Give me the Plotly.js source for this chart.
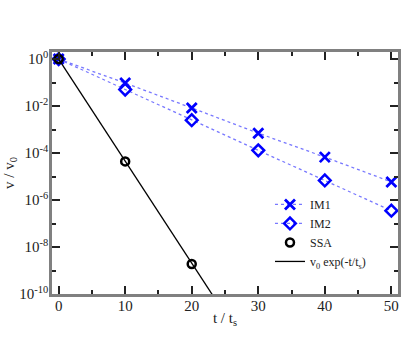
<!DOCTYPE html>
<html>
<head>
<meta charset="utf-8">
<script src="https://cdn.plot.ly/plotly-3.0.1.min.js"></script>
<style>
  html, body { margin: 0; padding: 0; background: #fff; }
  #plot { width: 407px; height: 346px; }
</style>
</head>
<body>
<div id="plot"></div>
<script>
// Data
var tPoints = [0, 10, 20, 30, 40, 50];
var im1 = [1, 0.095, 8.3e-3, 7.0e-4, 6.7e-5, 5.9e-6];
var im2 = [1, 0.05, 2.5e-3, 1.3e-4, 6.8e-6, 3.5e-7];
var ssaT = [0, 10, 20];
var ssa = [1, 4.4e-5, 1.9e-9];
var fitT = [0, 25];
var fitV = [1, 1.39e-11];

var majorY = [1, 1e-2, 1e-4, 1e-6, 1e-8, 1e-10];
var majorYText = ['10<sup>0</sup>', '10<sup>-2</sup>', '10<sup>-4</sup>', '10<sup>-6</sup>', '10<sup>-8</sup>', '10<sup>-10</sup>'];
var minorY = [1e-1, 1e-3, 1e-5, 1e-7, 1e-9];

var blue = 'rgb(0,0,255)';
var serif = 'Liberation Serif';

var data = [
  {
    x: tPoints, y: im1, name: 'IM1', type: 'scatter', mode: 'lines+markers',
    line: {color: 'rgb(120,120,255)', width: 1.3, dash: 'dot'},
    marker: {symbol: 'x-thin-open', size: 10, color: blue, line: {color: blue, width: 2.8}}
  },
  {
    x: tPoints, y: im2, name: 'IM2', type: 'scatter', mode: 'lines+markers',
    line: {color: 'rgb(120,120,255)', width: 1.3, dash: 'dot'},
    marker: {symbol: 'diamond-open', size: 9, color: blue, line: {color: blue, width: 2.5}}
  },
  {
    x: ssaT, y: ssa, name: 'SSA', type: 'scatter', mode: 'markers',
    marker: {symbol: 'circle-open', size: 8, color: 'black', line: {color: 'black', width: 2.5}}
  },
  {
    x: fitT, y: fitV, name: 'v<sub>0</sub> exp(-t/t<sub>s</sub>)', type: 'scatter', mode: 'lines',
    line: {color: 'black', width: 1.3}
  }
];

var layout = {
  width: 407,
  height: 346,
  margin: {l: 52, r: 9, t: 52, b: 52},
  paper_bgcolor: 'white',
  plot_bgcolor: 'white',
  font: {family: serif, size: 14, color: '#222'},
  showlegend: true,
  legend: {
    x: 0.63, y: 0.43, xanchor: 'left', yanchor: 'top',
    bgcolor: 'rgba(0,0,0,0)',
    font: {family: serif, size: 12, color: '#222'},
    tracegroupgap: 0,
    itemwidth: 30
  },
  xaxis: {
    range: [-1, 51],
    tickvals: [0, 10, 20, 30, 40, 50],
    ticks: 'inside', ticklen: 8, tickwidth: 1.5, tickcolor: '#222',
    minor: {dtick: 5, tick0: 0, ticks: 'inside', ticklen: 4, tickcolor: '#222', tickwidth: 1.5},
    showline: true, linecolor: '#808080', linewidth: 2.5, mirror: 'allticks',
    showgrid: false, zeroline: false,
    ticklabelstandoff: -4,
    tickfont: {family: serif, size: 15},
    title: {text: 't / t<sub>s</sub>', font: {family: serif, size: 15}, standoff: 0}
  },
  yaxis: {
    type: 'log',
    range: [-10, 0.3],
    tickmode: 'array',
    tickvals: majorY, ticktext: majorYText,
    ticks: 'inside', ticklen: 8, tickwidth: 1.5, tickcolor: '#222',
    minor: {tickmode: 'array', tickvals: minorY, ticks: 'inside', ticklen: 4, tickcolor: '#222', tickwidth: 1.5},
    showline: true, linecolor: '#808080', linewidth: 2.5, mirror: 'allticks',
    showgrid: false, zeroline: false,
    ticklabelstandoff: -2,
    tickfont: {family: serif, size: 15},
    title: {text: 'v / v<sub>0</sub>', font: {family: serif, size: 15}, standoff: 2}
  }
};

Plotly.newPlot('plot', data, layout, {displayModeBar: false});
</script>
</body>
</html>
